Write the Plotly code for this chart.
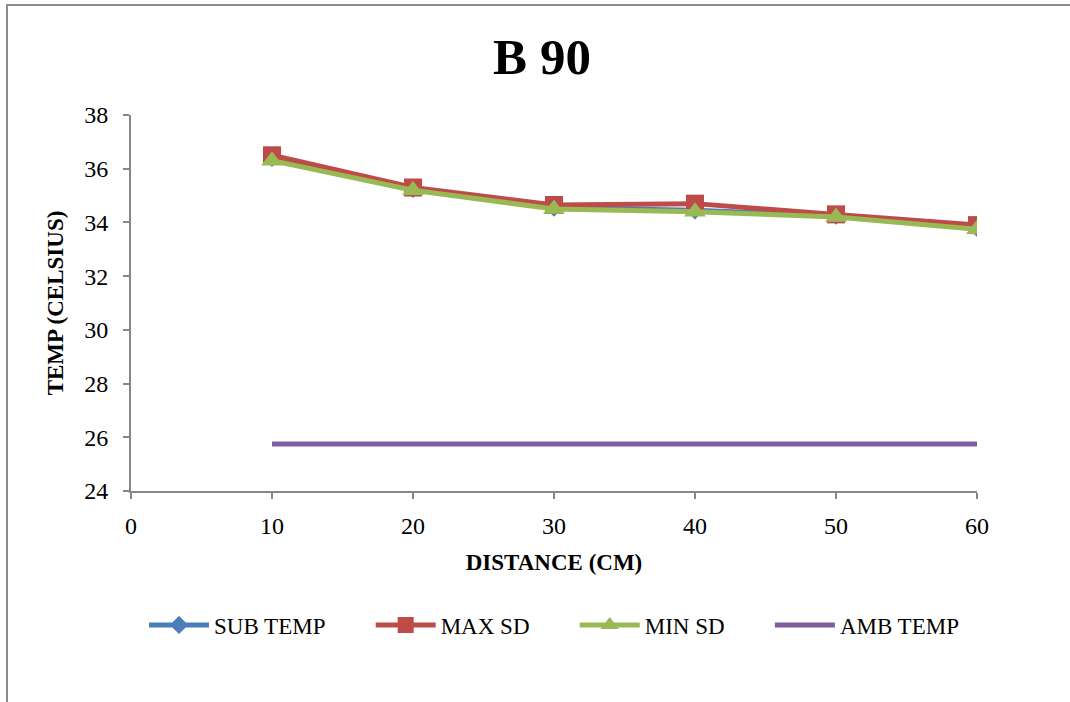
import plotly.graph_objects as go

distance = [10, 20, 30, 40, 50, 60]
sub_temp = [36.4, 35.25, 34.55, 34.45, 34.25, 33.8]
max_sd = [36.5, 35.3, 34.65, 34.7, 34.3, 33.9]
min_sd = [36.3, 35.2, 34.5, 34.4, 34.2, 33.75]
amb_temp = [25.75, 25.75, 25.75, 25.75, 25.75, 25.75]
names = ["SUB TEMP", "MAX SD", "MIN SD", "AMB TEMP"]

FONT = "Liberation Serif"
W, H = 1070, 702
L, R, T, B = 131, 93, 115, 211
PAD = "\u00a0" * 7

fig = go.Figure()
fig.add_trace(go.Scatter(x=distance, y=sub_temp, name=names[0] + PAD, mode="lines+markers",
                         line=dict(color="#4A7EBB", width=5),
                         marker=dict(symbol="diamond", size=14, color="#4A7EBB")))
fig.add_trace(go.Scatter(x=distance, y=max_sd, name=names[1] + PAD, mode="lines+markers",
                         line=dict(color="#BE4B48", width=5),
                         marker=dict(symbol="square", size=18, color="#BE4B48")))
fig.add_trace(go.Scatter(x=distance, y=min_sd, name=names[2] + PAD, mode="lines+markers",
                         line=dict(color="#98B954", width=5),
                         marker=dict(symbol="triangle-up", size=19, color="#98B954")))
fig.add_trace(go.Scatter(x=distance, y=amb_temp, name=names[3], mode="lines",
                         line=dict(color="#7D5FA0", width=5)))

pw = W - L - R
ph = H - T - B
fig.add_shape(type="rect", xref="paper", yref="paper",
              x0=(7 - L) / pw, x1=(W + 10 - L) / pw,
              y0=(H - B - (H + 10)) / ph, y1=(H - B - 5) / ph,
              line=dict(color="#8C8C8C", width=2), fillcolor="rgba(0,0,0,0)", layer="below")

fig.update_layout(
    width=W, height=H,
    margin=dict(l=L, r=R, t=T, b=B),
    paper_bgcolor="white", plot_bgcolor="white",
    font=dict(family=FONT, color="black", size=23),
    title=dict(text="<b>B 90</b>", x=542 / W, xanchor="center", y=1 - 56 / H, yanchor="middle",
               font=dict(family=FONT, size=51, color="black")),
    xaxis=dict(range=[0, 60], tickvals=[0, 10, 20, 30, 40, 50, 60], showgrid=False, zeroline=False,
               showline=True, linecolor="#868686", linewidth=2, ticks="outside", ticklen=6,
               tickcolor="#868686", tickwidth=2, ticklabelstandoff=6,
               tickfont=dict(family=FONT, size=24, color="black"),
               title=dict(text="<b>DISTANCE (CM)</b>", font=dict(family=FONT, size=23, color="black"),
                          standoff=16)),
    yaxis=dict(range=[24, 38], dtick=2, showgrid=False, zeroline=False,
               showline=True, linecolor="#868686", linewidth=2, ticks="outside", ticklen=6,
               tickcolor="#868686", tickwidth=2, ticklabelstandoff=10,
               tickfont=dict(family=FONT, size=24, color="black"),
               title=dict(text="<b>TEMP (CELSIUS)</b>", font=dict(family=FONT, size=23, color="black"),
                          standoff=14)),
    legend=dict(orientation="h", x=0.5, xanchor="center", y=(H - B - 625) / ph, yanchor="middle",
                font=dict(family=FONT, size=23, color="black"), itemwidth=60, tracegroupgap=0,
                bgcolor="rgba(0,0,0,0)"),
    showlegend=True,
)

fig.write_html("out.html")
